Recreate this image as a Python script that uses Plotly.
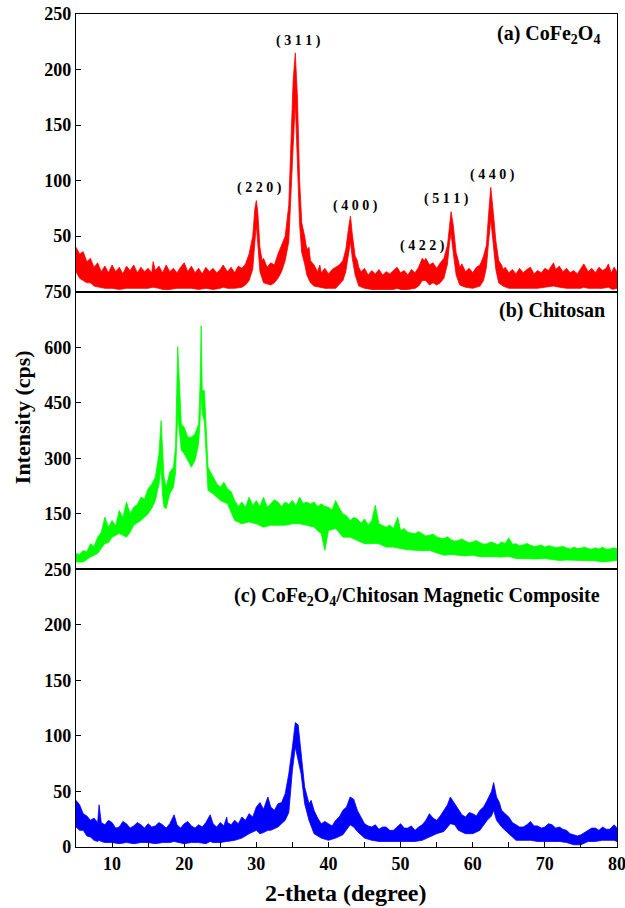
import plotly.graph_objects as go
from plotly.subplots import make_subplots

# ================= (a) CoFe2O4 =================
# upper envelope of the noisy trace
a_hi_x = [5, 5.5, 6, 6.5, 7, 7.5, 8, 8.5, 9, 9.5,
          10, 10.5, 11, 11.5, 12, 12.5, 13, 13.5, 14, 14.5,
          15, 15.5, 15.7, 16, 16.5, 17, 17.5, 18, 18.5, 19,
          19.5, 20, 20.5, 21, 21.5, 22, 22.5, 23, 23.5, 24,
          24.5, 25, 25.4, 26, 26.5, 27, 27.5, 28, 28.5, 29,
          29.5, 29.8, 30.0, 30.2, 30.5, 30.8, 31, 31.5, 32, 32.5,
          33, 33.5, 34, 34.5, 34.8, 35.1, 35.4, 35.7, 36.0, 36.3,
          36.7, 37, 37.3, 37.5, 38, 38.5, 38.8, 39, 39.5, 40,
          40.5, 41, 41.5, 42, 42.4, 42.8, 43.05, 43.3, 43.7, 44,
          44.2, 44.5, 45, 45.5, 46, 46.5, 47, 47.5, 48, 48.5,
          49, 49.5, 50, 50.5, 51, 51.5, 52, 52.5, 53, 53.3,
          53.5, 54, 54.5, 55, 55.5, 56, 56.5, 56.8, 57.0, 57.3,
          57.7, 58, 58.2, 58.5, 59, 59.5, 60, 60.5, 61, 61.5,
          61.9, 62.2, 62.5, 62.8, 63.2, 63.6, 64, 64.2, 64.5, 65,
          65.5, 66, 66.5, 67, 67.5, 68, 68.5, 69, 69.5, 70,
          70.5, 71.2, 71.5, 72, 72.5, 73, 73.5, 74, 74.5, 75,
          75.4, 76, 76.5, 77, 77.5, 78, 78.5, 78.8, 79.2, 79.6,
          80]
a_hi = [40, 34, 36, 27, 30, 22, 26, 18, 23, 17,
        24, 18, 22, 16, 23, 19, 24, 17, 22, 18,
        21, 17, 27, 19, 23, 17, 24, 18, 21, 17,
        22, 26, 18, 23, 17, 21, 16, 22, 18, 21,
        17, 20, 24, 18, 22, 17, 23, 21, 25, 34,
        50, 75, 82, 72, 40, 28, 30, 22, 26, 24,
        34, 42, 50, 78, 130, 190, 215, 175, 100, 62,
        50, 38, 40, 28, 24, 18, 24, 17, 21, 16,
        20, 22, 24, 28, 38, 58, 68, 52, 32, 28,
        22, 18, 21, 15, 19, 16, 20, 15, 18, 16,
        19, 22, 17, 19, 15, 20, 17, 22, 30, 28,
        30, 24, 26, 21, 26, 30, 42, 62, 72, 60,
        35, 28, 22, 25, 18, 21, 17, 22, 24, 32,
        42, 70, 94, 75, 46, 28, 24, 20, 22, 17,
        20, 16, 21, 17, 20, 22, 16, 19, 17, 21,
        19, 26, 20, 23, 18, 21, 17, 19, 16, 21,
        25, 18, 21, 17, 22, 19, 21, 25, 17, 22,
        18]
# lower envelope
a_lo_x = [5, 5.5, 6, 6.5, 7, 7.5, 8, 9, 10, 11, 12, 13, 14, 15, 15.7, 16.5, 17, 18, 19, 20,
          21, 22, 23, 24, 25, 25.4, 26, 27, 28, 28.5, 29, 29.5, 29.8, 30.0, 30.2, 30.5, 31, 32, 32.5, 33,
          33.5, 34, 34.5, 34.8, 35.1, 35.4, 35.7, 36.0, 36.3, 36.7, 37, 37.5, 38, 38.8, 39.5, 40, 41, 41.5, 42, 42.4,
          42.8, 43.05, 43.3, 43.7, 44.2, 45, 46, 47, 48, 49, 49.5, 50, 51, 52, 52.5, 53, 53.5, 54, 54.5, 55,
          55.5, 56, 56.5, 56.8, 57.0, 57.3, 57.7, 58.2, 59, 60, 61, 61.5, 61.9, 62.2, 62.5, 62.8, 63.2, 63.6, 64.2, 65,
          66, 67, 68, 69, 70, 71.2, 72, 73, 74, 75, 75.4, 76, 77, 78, 78.8, 79.4, 80]
a_lo = [18, 12, 10, 8, 8, 5, 4, 3, 3, 2, 3, 3, 3, 3, 4, 3, 2, 2, 3, 3,
        3, 2, 3, 2, 3, 4, 3, 3, 4, 6, 10, 20, 45, 60, 45, 18, 8, 6, 8, 12,
        18, 28, 45, 80, 130, 170, 110, 60, 35, 25, 15, 8, 5, 4, 3, 3, 3, 6, 10, 18,
        35, 45, 30, 15, 5, 3, 2, 2, 2, 2, 3, 2, 2, 3, 5, 10, 10, 6, 8, 6,
        8, 12, 25, 45, 52, 35, 15, 6, 4, 3, 5, 10, 22, 45, 65, 45, 20, 8, 5, 3,
        3, 3, 3, 3, 4, 5, 4, 3, 3, 3, 4, 3, 3, 3, 4, 2, 3]

peak_labels = ["( 2 2 0 )", "( 3 1 1 )", "( 4 0 0 )", "( 4 2 2 )", "( 5 1 1 )", "( 4 4 0 )"]
peak_x = [30.4, 35.8, 43.7, 53.0, 56.4, 62.7]
peak_y = [93, 226, 77, 41, 83, 105]

# ================= (b) Chitosan =================
b_hi_x = [5, 5.5, 6, 6.5, 7, 7.5, 8, 8.5, 9, 9.5,
          10, 10.5, 11, 11.5, 12, 12.5, 13, 13.5, 14, 14.5,
          15, 15.5, 16, 16.5, 16.8, 17.0, 17.2, 17.5, 18, 18.5,
          18.8, 19.1, 19.3, 19.6, 20, 20.5, 21, 21.5, 22, 22.2,
          22.35, 22.5, 22.8, 23.0, 23.3, 23.6, 24, 24.5, 25, 25.5,
          26, 26.5, 27, 27.5, 28, 28.5, 29, 29.5, 30, 30.5,
          31, 31.5, 32, 32.5, 33, 33.5, 34, 34.5, 35, 35.5,
          36, 36.5, 37, 37.5, 38, 38.5, 39, 39.5, 40, 40.5,
          41, 41.5, 42, 42.5, 43, 43.5, 44, 44.5, 45, 45.5,
          46, 46.5, 47, 47.5, 48, 48.5, 49, 49.6, 50, 50.5,
          51, 51.5, 52, 52.5, 53, 53.5, 54, 54.5, 55, 55.5,
          56, 56.5, 57, 57.5, 58, 58.5, 59, 59.5, 60, 60.5,
          61, 61.5, 62, 62.5, 63, 63.5, 64, 64.5, 65, 65.5,
          66, 66.5, 67, 67.5, 68, 68.5, 69, 69.5, 70, 70.5,
          71, 71.5, 72, 72.5, 73, 73.5, 74, 74.5, 75, 75.5,
          76, 76.5, 77, 77.5, 78, 78.5, 79, 79.5, 80]
b_hi = [43, 40, 51, 47, 69, 62, 87, 100, 141, 114,
        132, 118, 159, 140, 182, 150, 168, 175, 195, 190,
        218, 230, 249, 312, 402, 310, 249, 222, 262, 276,
        330, 602, 519, 393, 384, 357, 357, 366, 393, 500,
        658, 483, 483, 402, 276, 265, 249, 232, 222, 235,
        218, 210, 186, 170, 182, 168, 195, 172, 186, 170,
        195, 168, 177, 188, 182, 170, 182, 175, 186, 172,
        195, 178, 182, 176, 182, 170, 177, 170, 168, 160,
        186, 165, 150, 145, 132, 140, 136, 125, 136, 120,
        132, 173, 123, 118, 114, 120, 110, 141, 105, 110,
        100, 98, 96, 102, 95, 90, 92, 95, 88, 84,
        83, 88, 80, 76, 78, 82, 76, 72, 74, 78,
        72, 68, 69, 74, 71, 66, 74, 70, 85, 68,
        69, 64, 66, 70, 65, 62, 63, 66, 60, 64,
        62, 58, 60, 62, 58, 55, 60, 56, 57, 60,
        56, 54, 58, 55, 60, 54, 55, 58, 56]
b_lo_x = [5, 6, 7, 8, 8.5, 9, 9.5, 10, 11, 12, 12.5, 13, 14, 15, 15.5, 16, 16.5, 16.8, 17.0, 17.2,
          17.5, 18, 18.5, 18.8, 19.1, 19.3, 19.6, 20, 20.5, 21, 21.5, 22, 22.2, 22.35, 22.5, 22.8, 23.0, 23.3, 24, 25,
          26, 27, 28, 29, 30, 31, 32, 33, 34, 35, 36, 37, 38, 39, 39.5, 40, 41, 42, 43, 44,
          45, 46, 46.5, 47, 48, 49, 49.6, 50, 51, 52, 53, 54, 55, 56, 57, 58, 59, 60, 61, 62,
          63, 64, 65, 66, 67, 68, 69, 70, 71, 72, 73, 74, 75, 76, 77, 78, 79, 80]
b_lo = [20, 20, 33, 43, 55, 70, 72, 87, 97, 87, 100, 119, 132, 150, 165, 186, 230, 276, 200, 168,
        164, 204, 222, 260, 420, 380, 321, 312, 294, 276, 294, 339, 400, 480, 420, 400, 339, 213, 204, 186,
        177, 132, 123, 128, 123, 114, 119, 119, 119, 123, 123, 119, 114, 96, 51, 105, 110, 87, 87, 78,
        69, 69, 70, 69, 60, 60, 58, 56, 53, 51, 50, 51, 45, 38, 40, 38, 36, 38, 34, 33,
        34, 33, 35, 29, 30, 29, 28, 29, 27, 24, 25, 24, 24, 24, 23, 20, 22, 24]

# ================= (c) CoFe2O4/Chitosan composite =================
c_hi_x = [5, 5.5, 6, 6.5, 7, 7.5, 8, 8.2, 8.5, 9,
          9.5, 10, 10.5, 11, 11.5, 12, 12.5, 13, 13.5, 14,
          14.5, 15, 15.5, 16, 16.5, 17, 17.5, 18, 18.6, 19,
          19.5, 20, 20.5, 21, 21.5, 22, 22.5, 23, 23.6, 24,
          24.5, 25, 25.5, 25.9, 26, 26.5, 27, 27.5, 28, 28.5,
          29, 29.5, 30, 30.5, 31, 31.6, 32, 32.5, 33, 33.5,
          34, 34.5, 35, 35.4, 35.8, 36.2, 36.7, 37.3, 37.6, 38,
          38.5, 39, 39.5, 40, 40.5, 41, 41.5, 42, 42.5, 43,
          43.5, 44, 44.5, 45, 45.5, 46, 46.5, 47, 47.5, 48,
          48.5, 49, 49.5, 50, 50.5, 51, 51.5, 52, 52.5, 53,
          53.5, 54, 54.5, 55, 55.5, 56, 56.5, 56.9, 57.5, 58,
          58.5, 59, 59.5, 60, 60.5, 61, 61.5, 62, 62.6, 62.9,
          63.3, 63.7, 64, 64.5, 65, 65.5, 66, 66.5, 67, 67.5,
          68, 68.5, 69, 69.5, 70, 70.5, 71, 71.5, 72, 72.5,
          73, 73.5, 74, 74.5, 75, 75.5, 76, 76.5, 77, 77.5,
          78, 78.5, 79, 79.6, 80]
c_hi = [42, 38, 30, 28, 24, 26, 22, 38, 22, 20,
        24, 22, 17, 18, 23, 21, 17, 19, 22, 20,
        17, 21, 18, 19, 22, 20, 17, 21, 29, 20,
        17, 21, 23, 19, 17, 20, 18, 22, 29, 21,
        18, 22, 19, 27, 22, 20, 24, 21, 27, 24,
        30, 27, 36, 40, 34, 45, 36, 33, 39, 40,
        48, 66, 90, 112, 110, 84, 54, 39, 42, 33,
        26, 21, 23, 21, 19, 24, 27, 33, 36, 45,
        43, 33, 27, 21, 19, 18, 20, 16, 18, 18,
        15, 15, 18, 21, 17, 17, 19, 15, 18, 20,
        24, 30, 26, 24, 28, 33, 38, 45, 39, 33,
        29, 27, 31, 30, 28, 33, 36, 42, 50, 58,
        45, 40, 33, 30, 27, 22, 20, 18, 18, 20,
        23, 19, 19, 17, 18, 21, 20, 17, 18, 16,
        15, 12, 11, 10, 11, 13, 15, 17, 17, 15,
        18, 16, 16, 20, 17]
c_lo_x = [5, 5.5, 6, 6.5, 7, 7.5, 8, 8.2, 8.5, 9, 10, 11, 12, 13, 14, 15, 16, 17, 18, 18.6,
          19, 20, 21, 22, 23, 23.6, 24, 25, 25.9, 26, 27, 28, 29, 30, 30.5, 31, 31.6, 32, 33, 34,
          34.5, 35, 35.4, 35.8, 36.2, 36.7, 37.3, 38, 39, 40, 41, 42, 43, 43.5, 44, 45, 46, 47, 48, 49,
          50, 51, 52, 53, 54, 55, 56, 56.9, 57.5, 58, 59, 60, 61, 62, 62.6, 62.9, 63.3, 64, 65, 66,
          67, 68, 69, 70, 71, 72, 73, 74, 75, 76, 77, 78, 79, 79.6, 80]
c_lo = [18, 15, 15, 10, 9, 6, 5, 6, 5, 4, 4, 3, 4, 3, 4, 4, 3, 4, 4, 5,
        4, 3, 4, 4, 3, 5, 4, 4, 5, 5, 6, 8, 12, 15, 12, 13, 15, 15, 18, 24,
        31, 69, 90, 78, 66, 39, 24, 12, 8, 6, 8, 11, 20, 18, 14, 8, 6, 5, 5, 5,
        5, 5, 5, 6, 9, 12, 14, 21, 20, 15, 12, 12, 15, 24, 28, 33, 24, 18, 12, 6,
        6, 6, 5, 5, 5, 5, 4, 2, 2, 5, 5, 6, 6, 6, 5]

panel_labels = ["<b>(a) CoFe<sub>2</sub>O<sub>4</sub></b>",
                "<b>(b) Chitosan</b>",
                "<b>(c) CoFe<sub>2</sub>O<sub>4</sub>/Chitosan Magnetic Composite</b>"]

a_ticks = [50, 100, 150, 200, 250]
b_ticks = [150, 300, 450, 600, 750]
c_ticks = [0, 50, 100, 150, 200, 250]
x_ticks = [10, 20, 30, 40, 50, 60, 70, 80]

FONT = "Liberation Serif"


def band(xh, hi, xl, lo, color):
    xs = list(xh) + list(xl)[::-1]
    ys = list(hi) + list(lo)[::-1]
    return go.Scatter(x=xs, y=ys, mode="lines", fill="toself", fillcolor=color,
                      line=dict(color=color, width=0.8), hoverinfo="skip", showlegend=False)


fig = make_subplots(rows=3, cols=1, shared_xaxes=True, vertical_spacing=0)
fig.add_trace(band(a_hi_x, a_hi, a_lo_x, a_lo, "#ff0000"), row=1, col=1)
fig.add_trace(band(b_hi_x, b_hi, b_lo_x, b_lo, "#00ff00"), row=2, col=1)
fig.add_trace(band(c_hi_x, c_hi, c_lo_x, c_lo, "#0000ff"), row=3, col=1)

axis_common = dict(showline=True, linecolor="black", linewidth=1.2, mirror=True,
                   showgrid=False, zeroline=False, automargin=False)
tickfont = dict(family=FONT, size=18, color="black", weight="bold")

for i in (1, 2, 3):
    fig.update_xaxes(range=[5, 80], **axis_common, row=i, col=1)
fig.update_xaxes(ticks="", showticklabels=False, row=1, col=1)
fig.update_xaxes(ticks="", showticklabels=False, row=2, col=1)
fig.update_xaxes(tickmode="array", tickvals=x_ticks, ticks="inside", ticklen=5, tickwidth=1.2,
                 tickcolor="black", tickfont=tickfont, showticklabels=True,
                 ticklabeloverflow="allow",
                 minor=dict(ticks="inside", dtick=5, ticklen=5, tickwidth=1.2, tickcolor="black"),
                 row=3, col=1)

fig.update_yaxes(range=[0, 250], tickmode="array", tickvals=a_ticks, row=1, col=1)
fig.update_yaxes(range=[0, 750], tickmode="array", tickvals=b_ticks, row=2, col=1)
fig.update_yaxes(range=[0, 250], tickmode="array", tickvals=c_ticks, row=3, col=1)
for i in (1, 2, 3):
    fig.update_yaxes(**axis_common, ticks="inside", ticklen=5, tickwidth=1.2, tickcolor="black",
                     tickfont=tickfont, ticklabeloverflow="allow", row=i, col=1)

annotations = []
for lab, px, py in zip(peak_labels, peak_x, peak_y):
    annotations.append(dict(x=px, y=py, xref="x", yref="y", text="<b>" + lab + "</b>",
                            showarrow=False, font=dict(family=FONT, size=14, color="black"),
                            xanchor="center", yanchor="middle"))

label_pos = [(0.972, 0.9748), (0.981, 0.6438), (0.972, 0.3005)]
for lab, (px, py) in zip(panel_labels, label_pos):
    annotations.append(dict(x=px, y=py, xref="paper", yref="paper", text=lab, showarrow=False,
                            font=dict(family=FONT, size=20, color="black"),
                            xanchor="right", yanchor="middle"))

annotations.append(dict(x=-0.0998, y=0.516, xref="paper", yref="paper",
                        text="<b>Intensity (cps)</b>", textangle=-90, showarrow=False,
                        font=dict(family=FONT, size=22, color="black"),
                        xanchor="center", yanchor="middle"))
annotations.append(dict(x=0.499, y=-0.0552, xref="paper", yref="paper",
                        text="<b>2-theta (degree)</b>", showarrow=False,
                        font=dict(family=FONT, size=24, color="black"),
                        xanchor="center", yanchor="middle"))

fig.update_layout(width=625, height=908, margin=dict(l=76, r=8, t=14, b=61),
                  plot_bgcolor="white", paper_bgcolor="white", showlegend=False,
                  annotations=annotations)

fig.write_html("out.html")
